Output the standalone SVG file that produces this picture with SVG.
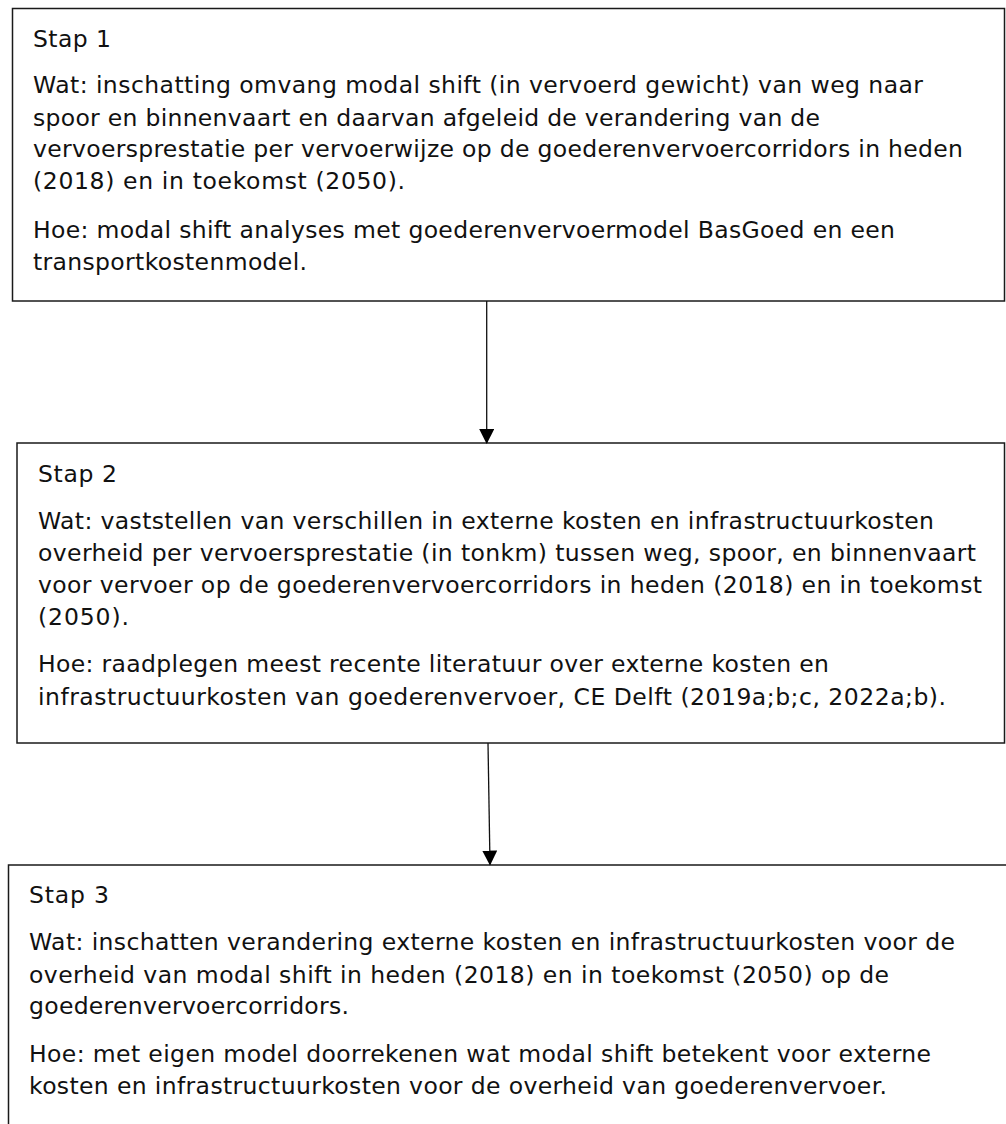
<svg xmlns="http://www.w3.org/2000/svg" width="1006" height="1124" viewBox="0 0 1006 1124">
<style>
.box{fill:#fff;stroke:#1a1a1a;stroke-width:1.5}
.t{font-family:"DejaVu Sans","Liberation Sans",sans-serif;font-size:23.5px;fill:#111}
.c{stroke:#111;stroke-width:1.3;fill:none}
</style>
<defs>
<marker id="ah" markerWidth="15" markerHeight="15" refX="14" refY="7.5" orient="auto" markerUnits="userSpaceOnUse" viewBox="0 0 15 15">
<path d="M0,0 L15,7.5 L0,15 Z" fill="#000"/>
</marker>
</defs>
<rect width="1006" height="1124" fill="#fff"/>
<g id="stap1">
<rect class="box" x="12.5" y="8.5" width="992" height="292.5"/>
<text class="t" x="33" y="47" textLength="78" lengthAdjust="spacing">Stap 1</text>
<text class="t" x="33" y="93" textLength="890" lengthAdjust="spacing">Wat: inschatting omvang modal shift (in vervoerd gewicht) van weg naar</text>
<text class="t" x="33" y="126" textLength="787" lengthAdjust="spacing">spoor en binnenvaart en daarvan afgeleid de verandering van de</text>
<text class="t" x="33" y="157" textLength="930" lengthAdjust="spacing">vervoersprestatie per vervoerwijze op de goederenvervoercorridors in heden</text>
<text class="t" x="33" y="189" textLength="372" lengthAdjust="spacing">(2018) en in toekomst (2050).</text>
<text class="t" x="33" y="238" textLength="862" lengthAdjust="spacing">Hoe: modal shift analyses met goederenvervoermodel BasGoed en een</text>
<text class="t" x="33" y="270" textLength="274" lengthAdjust="spacing">transportkostenmodel.</text>
</g>
<g id="stap2">
<rect class="box" x="17" y="443" width="987.5" height="300"/>
<text class="t" x="38" y="482" textLength="79" lengthAdjust="spacing">Stap 2</text>
<text class="t" x="38" y="529" textLength="896" lengthAdjust="spacing">Wat: vaststellen van verschillen in externe kosten en infrastructuurkosten</text>
<text class="t" x="38" y="561" textLength="938" lengthAdjust="spacing">overheid per vervoersprestatie (in tonkm) tussen weg, spoor, en binnenvaart</text>
<text class="t" x="38" y="593" textLength="944" lengthAdjust="spacing">voor vervoer op de goederenvervoercorridors in heden (2018) en in toekomst</text>
<text class="t" x="38" y="625" textLength="91" lengthAdjust="spacing">(2050).</text>
<text class="t" x="38" y="672" textLength="791" lengthAdjust="spacing">Hoe: raadplegen meest recente literatuur over externe kosten en</text>
<text class="t" x="38" y="705" textLength="908" lengthAdjust="spacing">infrastructuurkosten van goederenvervoer, CE Delft (2019a;b;c, 2022a;b).</text>
</g>
<g id="stap3">
<rect class="box" x="8.5" y="865" width="1010" height="300"/>
<text class="t" x="29" y="903" textLength="80" lengthAdjust="spacing">Stap 3</text>
<text class="t" x="29" y="950" textLength="926" lengthAdjust="spacing">Wat: inschatten verandering externe kosten en infrastructuurkosten voor de</text>
<text class="t" x="29" y="983" textLength="860" lengthAdjust="spacing">overheid van modal shift in heden (2018) en in toekomst (2050) op de</text>
<text class="t" x="29" y="1014" textLength="320" lengthAdjust="spacing">goederenvervoercorridors.</text>
<text class="t" x="29" y="1062" textLength="902" lengthAdjust="spacing">Hoe: met eigen model doorrekenen wat modal shift betekent voor externe</text>
<text class="t" x="29" y="1094" textLength="858" lengthAdjust="spacing">kosten en infrastructuurkosten voor de overheid van goederenvervoer.</text>
</g>
<g id="connectors">
<line class="c" x1="486.7" y1="301" x2="486.7" y2="443" marker-end="url(#ah)"/>
<line class="c" x1="488" y1="743" x2="490" y2="864.5" marker-end="url(#ah)"/>
</g>
</svg>
